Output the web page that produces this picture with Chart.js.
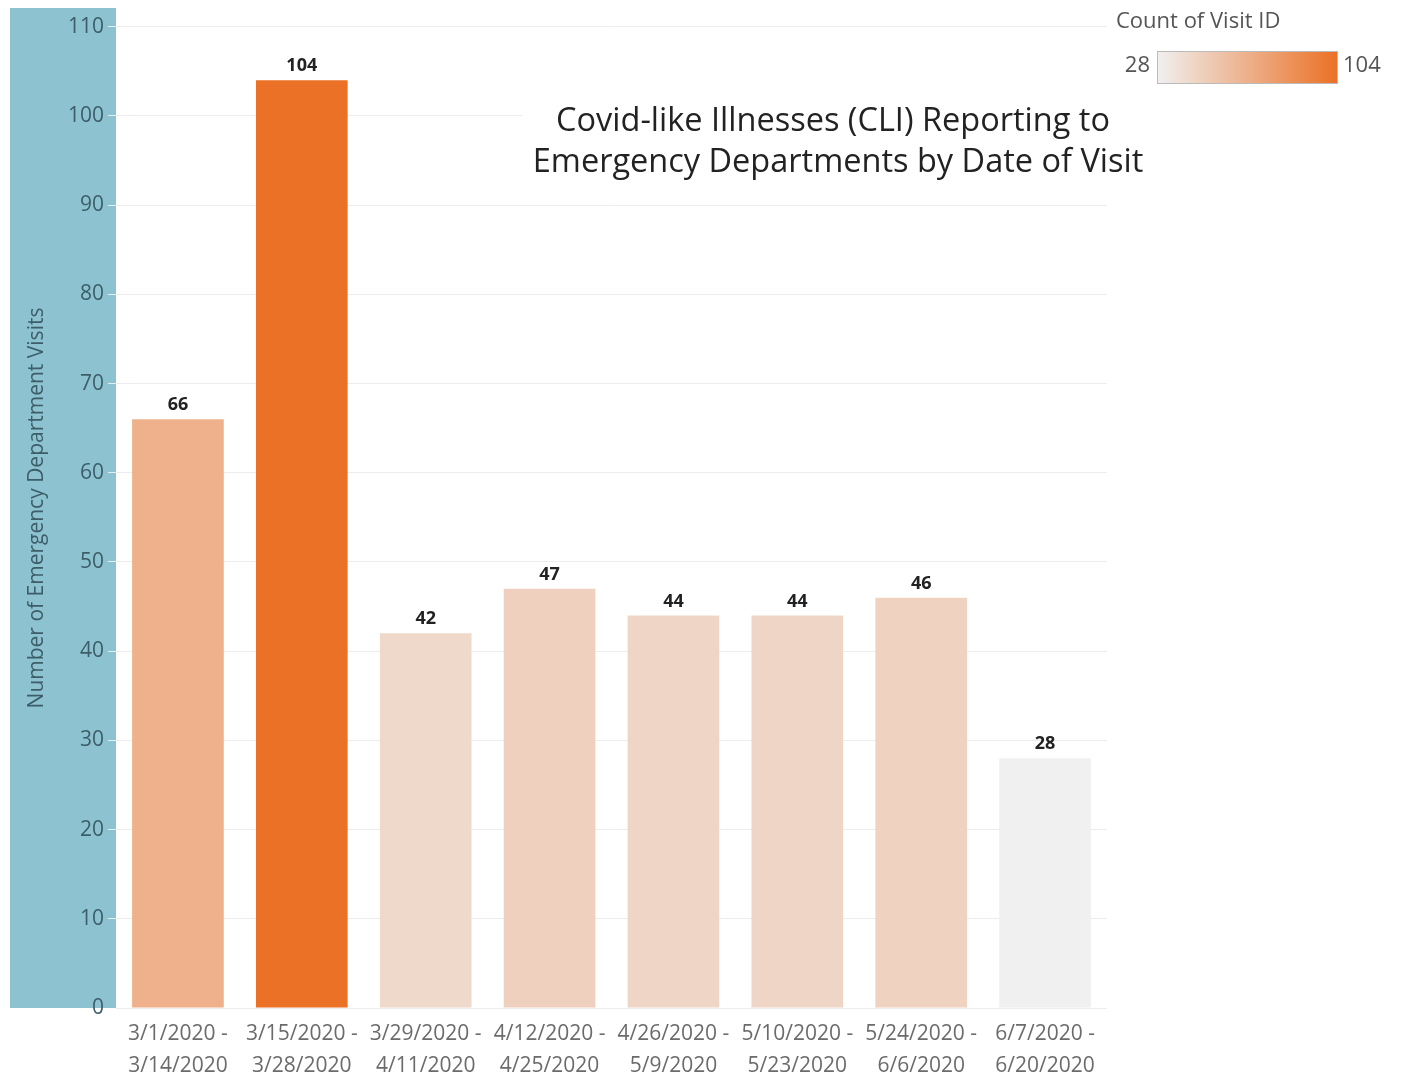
<!DOCTYPE html>
<html lang="en">
<head>
    <meta charset="UTF-8">
    <title>Covid-like Illnesses (CLI) Reporting to Emergency Departments</title>
    <script src="https://cdn.jsdelivr.net/npm/chart.js"></script>
    <style>
        html, body { margin: 0; padding: 0; background: #fff; }
        #wrap { width: 1401px; height: 1082px; position: relative; }
    </style>
</head>
<body>
    <div id="wrap"><canvas id="cliChart"></canvas></div>

    <script>
        // data
        const periodStart = ['3/1/2020', '3/15/2020', '3/29/2020', '4/12/2020', '4/26/2020', '5/10/2020', '5/24/2020', '6/7/2020'];
        const periodEnd = ['3/14/2020', '3/28/2020', '4/11/2020', '4/25/2020', '5/9/2020', '5/23/2020', '6/6/2020', '6/20/2020'];
        const visits = [66, 104, 42, 47, 44, 44, 46, 28];
        const yTicks = [0, 10, 20, 30, 40, 50, 60, 70, 80, 90, 100, 110];

        const titleLines = ['Covid-like Illnesses (CLI) Reporting to', 'Emergency Departments by Date of Visit'];
        const legendTitle = 'Count of Visit ID';

        const FONT = '"Open Sans", "Noto Sans", sans-serif';
        const lowColor = [240, 240, 240];
        const highColor = [235, 113, 38];
        const vMin = Math.min(...visits);
        const vMax = Math.max(...visits);

        // colour of a value on the sequential scale (same as the legend)
        function colorFor(v) {
            const t = (v - vMin) / (vMax - vMin);
            const c = lowColor.map((lo, i) => Math.round(lo + (highColor[i] - lo) * t));
            return `rgb(${c[0]}, ${c[1]}, ${c[2]})`;
        }

        // value labels above the bars
        const valueLabels = {
            id: 'valueLabels',
            afterDatasetsDraw(chart) {
                const ctx = chart.ctx;
                const meta = chart.getDatasetMeta(0);
                ctx.save();
                ctx.font = 'bold 18px ' + FONT;
                ctx.fillStyle = '#222';
                ctx.textAlign = 'center';
                ctx.textBaseline = 'bottom';
                meta.data.forEach((bar, i) => {
                    ctx.fillText(String(visits[i]), bar.x, bar.y - 5);
                });
                ctx.restore();
            }
        };

        // title box + colour legend
        const annotations = {
            id: 'annotations',
            afterDraw(chart) {
                const ctx = chart.ctx;
                ctx.save();

                // title with white box over the grid
                ctx.fillStyle = '#fff';
                ctx.fillRect(522, 98, 636, 88);
                ctx.fillStyle = '#222';
                ctx.font = '32.5px ' + FONT;
                ctx.textAlign = 'center';
                ctx.textBaseline = 'middle';
                ctx.fillText(titleLines[0], 833, 122);
                ctx.fillText(titleLines[1], 838, 163);

                // legend
                ctx.font = '22px ' + FONT;
                ctx.fillStyle = '#555';
                ctx.textAlign = 'left';
                ctx.fillText(legendTitle, 1116, 22);

                const gx = 1157, gy = 51, gw = 180, gh = 32;
                const grad = ctx.createLinearGradient(gx, 0, gx + gw, 0);
                grad.addColorStop(0, colorFor(vMin));
                grad.addColorStop(1, colorFor(vMax));
                ctx.fillStyle = grad;
                ctx.fillRect(gx, gy, gw, gh);
                ctx.strokeStyle = '#bbb';
                ctx.lineWidth = 1;
                ctx.strokeRect(gx + 0.5, gy + 0.5, gw, gh);

                ctx.fillStyle = '#555';
                ctx.font = '22px ' + FONT;
                ctx.textAlign = 'right';
                ctx.fillText(String(vMin), 1150, 66);
                ctx.textAlign = 'left';
                ctx.fillText(String(vMax), 1343, 66);
                ctx.restore();
            }
        };

        const ctx = document.getElementById('cliChart').getContext('2d');
        const cliChart = new Chart(ctx, {
            type: 'bar',
            data: {
                labels: periodStart.map((s, i) => [s + ' -', periodEnd[i]]),
                datasets: [{
                    label: 'Number of Emergency Department Visits',
                    data: visits,
                    backgroundColor: visits.map(colorFor),
                    borderWidth: 0,
                    barPercentage: 0.74,
                    categoryPercentage: 1.0
                }]
            },
            options: {
                responsive: true,
                maintainAspectRatio: false,
                animation: false,
                layout: { padding: { left: 10, right: 294, top: 8, bottom: 0 } },
                plugins: {
                    legend: { display: false },
                    tooltip: { enabled: false }
                },
                scales: {
                    x: {
                        grid: { display: false, drawTicks: false },
                        border: { display: false },
                        ticks: {
                            color: '#6b6b6b',
                            font: { family: FONT, size: 21, lineHeight: 1.52 },
                            padding: 10,
                            maxRotation: 0,
                            autoSkip: false
                        },
                        afterFit(scale) {
                            scale.height = 74;
                            scale.paddingLeft = 0;
                            scale.paddingRight = 0;
                        }
                    },
                    y: {
                        min: 0,
                        max: 112.1,
                        backgroundColor: '#8dc3d0',
                        afterBuildTicks(scale) {
                            scale.ticks = yTicks.map(v => ({ value: v }));
                        },
                        afterFit(scale) {
                            scale.width = 106;
                            scale.paddingTop = 0;
                            scale.paddingBottom = 0;
                        },
                        grid: {
                            color: '#ececec',
                            tickColor: 'rgba(255,255,255,0.75)',
                            tickLength: 8
                        },
                        border: { display: false },
                        ticks: {
                            color: '#3d5e68',
                            font: { family: FONT, size: 21 },
                            padding: 4
                        },
                        title: {
                            display: true,
                            text: 'Number of Emergency Department Visits',
                            color: '#3d5e68',
                            font: { family: FONT, size: 21 },
                            padding: { top: 14, bottom: 0 }
                        }
                    }
                }
            },
            plugins: [valueLabels, annotations]
        });
    </script>
</body>
</html>
